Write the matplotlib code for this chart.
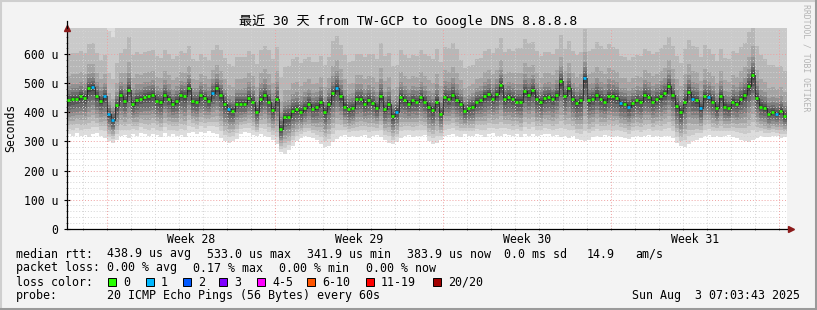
import numpy as np
import matplotlib
matplotlib.use("Agg")
import matplotlib.pyplot as plt
from matplotlib.patches import Rectangle
from matplotlib.lines import Line2D

# ---------------- data ----------------
title = "最近 30 天 from TW-GCP to Google DNS 8.8.8.8"
step_hours = 4  # one value every 4 hours, 30 days
median_us = [
    441, 447, 447, 455, 450, 483, 487, 455, 440, 455, 393, 372, 424, 459, 438, 478, 428, 441, 446, 452,
    455, 460, 440, 435, 460, 445, 430, 440, 460, 455, 483, 438, 437, 458, 450, 440, 467, 483, 459, 430,
    410, 405, 430, 430, 430, 450, 437, 400, 446, 460, 437, 407, 445, 342, 383, 385, 405, 410, 400, 414,
    430, 413, 418, 437, 400, 430, 465, 483, 455, 420, 410, 414, 446, 446, 430, 441, 432, 414, 455, 410,
    430, 386, 402, 452, 441, 430, 441, 437, 452, 437, 417, 407, 437, 393, 452, 446, 460, 441, 430, 403,
    414, 420, 437, 441, 455, 462, 446, 462, 493, 446, 452, 446, 437, 437, 472, 460, 476, 446, 435, 450,
    452, 446, 460, 507, 455, 483, 446, 432, 441, 517, 441, 446, 460, 446, 437, 455, 455, 450, 432, 430,
    420, 432, 441, 437, 460, 452, 437, 446, 455, 465, 490, 459, 422, 400, 437, 470, 446, 441, 414, 455,
    452, 437, 414, 455, 420, 414, 437, 430, 446, 460, 490, 528, 450, 420, 414, 395, 400, 395, 405, 386,
]
loss_steps = [6, 9, 10, 11, 36, 40, 67, 82, 129, 138, 140, 156, 158, 160, 177]  # steps with 1 of 20 lost
# lowest ping per step (bottom edge of the smoke)
min_rtt_us = [
    325, 320, 328, 318, 322, 316, 324, 330, 320, 312, 300, 296, 305, 318, 322, 312, 326, 320, 330, 324,
    318, 326, 322, 315, 328, 320, 324, 318, 322, 316, 330, 334, 326, 332, 328, 336, 330, 324, 312, 300,
    296, 302, 310, 326, 332, 328, 322, 318, 326, 320, 314, 306, 290, 262, 258, 270, 285, 300, 312, 318,
    316, 312, 305, 292, 282, 286, 298, 310, 318, 322, 316, 320, 314, 318, 322, 312, 318, 322, 316, 306,
    296, 290, 298, 312, 318, 322, 316, 320, 318, 322, 300, 292, 296, 306, 318, 322, 326, 320, 316, 324,
    320, 318, 326, 322, 316, 324, 328, 320, 318, 326, 322, 318, 324, 316, 326, 320, 324, 318, 322, 326,
    324, 318, 322, 316, 320, 312, 318, 310, 304, 300, 306, 314, 320, 316, 322, 318, 314, 320, 316, 312,
    308, 316, 320, 314, 318, 322, 316, 320, 314, 318, 318, 312, 296, 284, 280, 290, 300, 306, 312, 318,
    322, 316, 320, 314, 318, 322, 316, 312, 306, 300, 298, 304, 312, 318, 314, 316, 320, 318, 312, 316,
]
# spread of the slow pings above the median, one value per 8 hours
high_spread_us = [
    520, 520, 510, 500, 470, 470, 480, 600, 560, 520,
    520, 510, 520, 510, 500, 480, 470, 470, 490, 520,
    520, 530, 540, 550, 560, 590, 600, 580, 600, 560,
    530, 520, 540, 600, 590, 540, 520, 530, 560, 610,
    580, 540, 520, 520, 540, 590, 600, 580, 590, 500,
    480, 490, 520, 530, 540, 550, 610, 600, 550, 530,
    520, 530, 540, 550, 560, 570, 610, 600, 560, 540,
    530, 520, 530, 540, 550, 560, 570, 600, 610, 590,
    550, 540, 560, 580, 600, 620, 590, 560, 540, 520,
]
week_labels = ["Week 28", "Week 29", "Week 30", "Week 31"]
first_week_start_h = 40   # Sunday 00:00 after graph start (hours)
first_midnight_h = 16
total_hours = 720
loss_labels = ["0", "1", "2", "3", "4-5", "6-10", "11-19", "20/20"]
loss_colors = ["#26ff00", "#00b8ff", "#0059ff", "#7e00ff", "#ff00ff", "#ff5500", "#ff0000", "#a10000"]
row1 = ["median rtt:", "438.9 us avg", "533.0 us max", "341.9 us min", "383.9 us now", "0.0 ms sd", "14.9", "am/s"]
row2 = ["packet loss:", "0.00 % avg", "0.17 % max", "0.00 % min", "0.00 % now"]
row3 = ["loss color:"]
row4 = ["probe:", "20 ICMP Echo Pings (56 Bytes) every 60s"]
timestamp = "Sun Aug  3 07:03:43 2025"

# ---------------- figure ----------------
W, H = 817, 310
fig = plt.figure(figsize=(W / 100, H / 100), dpi=100)
fig.patch.set_facecolor("#f3f3f3")

px = lambda x: x / W
py = lambda y: 1 - y / H

ax_left, ax_right, ax_top, ax_bot = 66.7, 786.7, 28.0, 228.7
ax = fig.add_axes([px(ax_left), py(ax_bot), px(ax_right - ax_left), (ax_bot - ax_top) / H])
ax.set_facecolor("white")
ax.set_xlim(0, total_hours)
ax.set_ylim(0, 690)

med = np.array(median_us, float)
n = len(med)
lo = np.array(min_rtt_us, float)
sp = np.repeat(np.array(high_spread_us, float), n // len(high_spread_us))
edges = np.arange(n + 1) * step_hours

# smoke: 20 ranked pings, layered like smokeping (outer = light, inner = dark)
a = [1.0, 0.84, 0.72, 0.6, 0.48, 0.38, 0.28, 0.16, 0.08, 0.024]
b = [0.005, 0.0125, 0.027, 0.045, 0.068, 0.098, 0.16, 0.30, 0.61, 1.0]
pings = [med - (med - lo) * f for f in a] + [med + sp * f for f in b]
half = 10
for ibot in range(1, half + 1):
    g = int(190 / half * (half - ibot)) + 50
    col = "#%02x%02x%02x" % (g, g, g)
    y0 = np.append(pings[ibot - 1], pings[ibot - 1][-1])
    y1 = np.append(pings[20 - ibot], pings[20 - ibot][-1])
    ax.fill_between(edges, y0, y1, step="post", color=col, lw=0, antialiased=False, zorder=1)

# grid
minor_col = "#d4d4d4"
major_col = "#f0a0a0"
for v in range(20, 690, 20):
    if v % 100:
        ax.axhline(v, color=minor_col, lw=0.7, ls=(0, (1, 2)), zorder=2)
for v in range(100, 690, 100):
    ax.axhline(v, color=major_col, lw=0.7, ls=(0, (1, 2)), zorder=2)
for h in range(first_midnight_h, total_hours, 24):
    if (h - first_week_start_h) % 168:
        ax.axvline(h, color=minor_col, lw=0.7, ls=(0, (1, 2)), zorder=2)
week_starts = list(range(first_week_start_h, total_hours, 168))
for h in week_starts:
    ax.axvline(h, color=major_col, lw=0.7, ls=(0, (1, 2)), zorder=2)

# median line coloured by loss
ax.step(edges, np.append(med, med[-1]), where="post", color="#1a1a1a", lw=0.5, zorder=3)
cols = [loss_colors[1] if i in loss_steps else loss_colors[0] for i in range(n)]
ax.hlines(med, edges[:-1] + 0.5, edges[1:] - 0.8, colors=cols, lw=1.9, zorder=4)

# axes styling
for s in ["top", "right"]:
    ax.spines[s].set_visible(False)
ax.spines["left"].set_color("black")
ax.spines["bottom"].set_color("black")
ax.spines["left"].set_linewidth(0.9)
ax.spines["bottom"].set_linewidth(0.9)
ax.spines["bottom"].set_bounds(0, total_hours + 4)
ax.set_yticks(range(0, 690, 100))
ax.set_yticklabels(["0"] + ["%d u" % v for v in range(100, 690, 100)])
ax.set_yticks(range(0, 690, 20), minor=True)
ax.set_xticks([h + 84 for h in week_starts[:len(week_labels)]])
ax.set_xticklabels(week_labels)
ax.set_xticks(range(first_midnight_h, total_hours, 24), minor=True)
ax.tick_params(axis="both", which="major", direction="inout", length=4, width=0.8,
               labelsize=8.3, colors="black")
ax.tick_params(axis="both", which="minor", direction="inout", length=2, width=0.6, colors="#555555")
ax.tick_params(axis="y", pad=4)
ax.tick_params(axis="x", which="major", length=0, pad=3)
for lab in ax.get_xticklabels() + ax.get_yticklabels():
    lab.set_family("DejaVu Sans Mono")

# axis arrows
fig.add_artist(Line2D([px(ax_left), px(ax_left)], [py(ax_top), py(21)], color="black", lw=0.9))
ax.plot([0], [1.0], transform=ax.transAxes, marker="^", ms=4.5, color="#8b1a1a", clip_on=False, zorder=6)
ax.plot([(total_hours + 4) / total_hours], [0], transform=ax.transAxes, marker=">", ms=4.5,
        color="#8b1a1a", clip_on=False, zorder=6)

# texts
mono = "DejaVu Sans Mono"
fs = 8.35
fig.text(px(408.5), py(21), title, ha="center", va="center", fontsize=9.4,
         family=[mono, "Noto Sans CJK SC"])
fig.text(px(11), py(128), "Seconds", rotation=90, ha="center", va="center", fontsize=8.3, family=mono)
fig.text(px(806), py(4), "RRDTOOL / TOBI OETIKER", rotation=270, ha="center", va="top",
         fontsize=5.9, family=mono, color="#b4b4b4")

rows = [
    (row1, [16, 107, 207, 307, 407, 504, 587, 635], 254),
    (row2, [16, 107, 193, 279, 366], 268),
    (row3, [16], 282),
    (row4, [16, 107], 296),
]
for items, xs, y in rows:
    for t, x in zip(items, xs):
        fig.text(px(x), py(y), t, ha="left", va="center", fontsize=fs, family=mono)
box_x = [108, 146, 183, 219, 257, 307, 366, 433]
for bx, lab, c in zip(box_x, loss_labels, loss_colors):
    fig.add_artist(Rectangle((px(bx), py(286)), px(8), 8 / H, facecolor=c, edgecolor="black", lw=0.7))
    fig.text(px(bx + 15), py(282), lab, ha="left", va="center", fontsize=fs, family=mono)
fig.text(px(800), py(296), timestamp, ha="right", va="center", fontsize=fs, family=mono)

# 3D frame
fig.add_artist(Line2D([0, 1], [py(1), py(1)], color="#cfcfcf", lw=1.5))
fig.add_artist(Line2D([px(1), px(1)], [0, 1], color="#cfcfcf", lw=1.5))
fig.add_artist(Line2D([0, 1], [py(308.5), py(308.5)], color="#9a9a9a", lw=2.2))
fig.add_artist(Line2D([px(815.5), px(815.5)], [0, 1], color="#9a9a9a", lw=2.2))

fig.savefig("out.png", dpi=100, facecolor=fig.get_facecolor())
